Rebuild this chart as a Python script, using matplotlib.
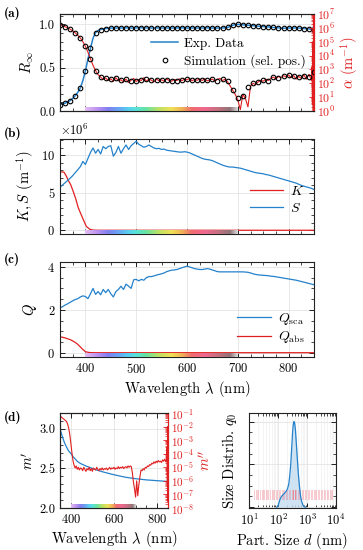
"""Reflectance / K-S / Q / refractive index overview, 4 panels."""
import numpy as np
import matplotlib
matplotlib.use("Agg")
import matplotlib.pyplot as plt
from matplotlib.colors import LinearSegmentedColormap
from matplotlib.lines import Line2D
from matplotlib.ticker import MultipleLocator, LogLocator, NullFormatter, ScalarFormatter

matplotlib.rcParams.update({
    "font.family": "serif", "font.serif": ["cmr10"], "mathtext.fontset": "cm",
    "axes.formatter.use_mathtext": True, "font.size": 9,
    "axes.linewidth": 0.8, "axes.edgecolor": "#222222",
    "xtick.direction": "in", "ytick.direction": "in",
    "xtick.top": True, "ytick.right": True,
    "xtick.major.size": 3.5, "ytick.major.size": 3.5,
    "xtick.minor.size": 2, "ytick.minor.size": 2,
    "xtick.major.width": 0.6, "ytick.major.width": 0.6,
    "xtick.minor.width": 0.5, "ytick.minor.width": 0.5,
    "xtick.minor.visible": True, "ytick.minor.visible": True,
})

BLUE = "#2482cc"
RED = "#e02020"
GRID = "#e4e4e4"

# ---------------- data ----------------
wl5 = np.arange(350, 851, 5)     # 5 nm grid of the spectra
wl10 = np.arange(350, 851, 10)   # selected simulation positions

# (a) reflectance R_inf, measured
R_exp = [
    .075, .082, .090, .105, .120, .145, .176, .215, .267, .350,
    .462, .600, .726, .840, .905, .930, .940, .947, .952, .955,
    .957, .958, .958, .959, .958, .959, .960, .959, .958, .959,
    .960, .960, .961, .960, .959, .959, .958, .959, .960, .959,
    .958, .958, .959, .958, .958, .958, .959, .959, .960, .959,
    .958, .958, .958, .959, .958, .958, .958, .959, .960, .959,
    .958, .958, .958, .958, .959, .960, .965, .975, .990, .997,
    1.000, .998, .995, .992, .990, .987, .985, .982, .980, .977,
    .975, .972, .970, .967, .965, .962, .960, .957, .955, .957,
    .958, .958, .958, .959, .958, .955, .952, .950, .948, .940,
    .975]
# (a) simulated R_inf at selected positions
R_sim = [
    .075, .090, .120, .176, .267, .462, .726, .905, .940, .952,
    .957, .958, .958, .960, .958, .960, .962, .958, .958, .960,
    .958, .958, .958, .958, .960, .958, .958, .958, .958, .960,
    .958, .958, .958, .965, .990, 1.000, .995, .990, .985, .980,
    .975, .970, .965, .960, .955, .958, .958, .958, .952, .948,
    .935]
# (a) absorption coefficient alpha, log10(m^-1)
alpha_log = [
    6.22, 6.15, 6.08, 6.00, 5.90, 5.78, 5.64, 5.47, 5.27, 5.00,
    4.67, 4.25, 3.77, 3.30, 2.92, 2.62, 2.45, 2.28, 2.38, 2.20,
    2.32, 2.15, 2.40, 2.18, 2.25, 2.10, 2.30, 2.05, 2.22, 2.35,
    2.12, 2.28, 2.20, 2.40, 2.15, 2.30, 2.22, 2.10, 2.30, 2.18,
    2.25, 2.15, 2.30, 2.20, 2.15, 2.28, 2.20, 2.32, 2.18, 2.30,
    2.25, 2.35, 2.18, 2.28, 2.22, 2.30, 2.20, 2.32, 2.18, 2.25,
    2.30, 2.15, 2.28, 2.35, 2.20, 2.30, 2.10, 1.80, 1.50, 1.20,
    0.80, 0.10, 1.20, 0.90, 0.30, 1.80, 2.00, 1.90, 2.10, 2.20,
    2.15, 2.30, 2.20, 2.35, 2.45, 2.30, 2.50, 2.40, 2.55, 2.45,
    2.60, 2.40, 2.55, 2.30, 2.50, 2.35, 2.60, 2.30, 2.65, 2.20]
alpha_end_wl = [846, 847, 848, 848.5, 849, 849.5, 850]
alpha_end_log = [3.2, 0.5, 5.0, 0.0, 7.0, 1.0, 2.9]
alpha_sim_log = [
    6.20, 6.08, 5.89, 5.64, 5.27, 4.67, 3.77, 2.92, 2.48, 2.36,
    2.31, 2.35, 2.22, 2.28, 2.18, 2.20, 2.22, 2.30, 2.24, 2.22,
    2.22, 2.24, 2.20, 2.20, 2.24, 2.30, 2.24, 2.26, 2.24, 2.22,
    2.30, 2.20, 2.30, 2.20, 1.50, 0.95, 1.05, 1.75, 2.00, 2.10,
    2.25, 2.20, 2.45, 2.40, 2.55, 2.60, 2.50, 2.45, 2.50, 2.45,
    2.85]

# (b) Kubelka-Munk coefficients (x1e6 m^-1)
S_km = [
    5.75, 6.05, 6.35, 6.65, 6.96, 7.30, 7.70, 8.10, 8.50, 9.20,
    8.80, 9.60, 10.4, 11.0, 10.3, 10.8, 10.2, 11.2, 10.9, 11.2,
    11.3, 9.90, 10.4, 11.2, 10.3, 10.9, 11.4, 10.8, 11.3, 11.6,
    11.9, 11.5, 11.3, 11.1, 11.2, 11.4, 11.2, 11.0, 10.9, 10.95,
    10.8, 10.85, 10.7, 10.65, 10.6, 10.55, 10.5, 10.45, 10.45, 10.5,
    10.45, 10.35, 10.2, 10.05, 9.90, 9.75, 9.60, 9.50, 9.45, 9.40,
    9.30, 9.15, 9.00, 8.85, 8.70, 8.60, 8.50, 8.45, 8.45, 8.40,
    8.35, 8.30, 8.20, 8.10, 8.00, 7.90, 7.80, 7.70, 7.65, 7.60,
    7.55, 7.45, 7.40, 7.30, 7.20, 7.10, 7.00, 6.90, 6.80, 6.70,
    6.60, 6.50, 6.40, 6.30, 6.15, 6.00, 5.90, 5.80, 5.70, 5.60,
    5.45]
K_wl = [350, 355, 358, 362, 366, 371, 376, 381, 386, 391, 396, 402, 409, 415, 420, 430, 850]
K_km = [7.8, 7.8, 7.75, 7.3, 6.7, 6.1, 5.2, 4.2, 3.0, 2.2, 1.4, 0.5, 0.12, 0.03, 0.01, 0.0, 0.0]

# (c) efficiencies
Q_sca = [
    2.08, 2.15, 2.22, 2.28, 2.35, 2.42, 2.48, 2.52, 2.60, 2.65,
    2.62, 2.52, 2.75, 3.00, 2.72, 2.85, 2.70, 2.95, 2.80, 2.95,
    2.75, 2.60, 2.85, 2.95, 3.10, 2.95, 3.20, 3.10, 3.00, 3.40,
    3.42, 3.35, 3.42, 3.38, 3.50, 3.55, 3.55, 3.58, 3.62, 3.65,
    3.68, 3.72, 3.78, 3.82, 3.85, 3.86, 3.88, 3.92, 3.96, 4.00,
    4.04, 4.00, 3.96, 3.92, 3.90, 3.88, 3.88, 3.90, 3.92, 3.90,
    3.86, 3.82, 3.78, 3.77, 3.77, 3.77, 3.77, 3.77, 3.77, 3.77,
    3.77, 3.77, 3.77, 3.76, 3.75, 3.72, 3.68, 3.65, 3.63, 3.62,
    3.61, 3.60, 3.59, 3.57, 3.56, 3.54, 3.52, 3.50, 3.48, 3.46,
    3.44, 3.42, 3.40, 3.38, 3.35, 3.32, 3.29, 3.26, 3.23, 3.20,
    3.17]
Qabs_wl = [350, 355, 360, 365, 370, 375, 380, 385, 390, 395, 400, 405, 410, 420, 850]
Q_abs = [0.74, 0.72, 0.69, 0.65, 0.61, 0.55, 0.48, 0.39, 0.27, 0.15, 0.05, 0.02, 0.005, 0.0, 0.0]

# (d) complex refractive index
m_re_wl = [350, 360, 370, 380, 390, 400, 410, 420, 430, 440, 450, 475, 500, 525, 550,
           600, 650, 700, 750, 800, 850]
m_re = [3.0, 2.91, 2.83, 2.77, 2.72, 2.69, 2.65, 2.62, 2.59, 2.57, 2.555, 2.525, 2.5,
        2.475, 2.455, 2.42, 2.39, 2.37, 2.355, 2.345, 2.335]
m_im_log = [
    -1.22, -1.28, -1.35, -1.42, -1.48, -1.55, -1.62, -1.80, -2.10, -2.55,
    -3.20, -3.90, -4.50, -4.85, -5.05, -4.90, -5.15, -5.00, -5.20, -5.05,
    -5.10, -5.25, -5.00, -5.15, -5.30, -5.10, -5.20, -5.00, -5.25, -5.10,
    -5.30, -5.05, -5.15, -5.20, -5.00, -5.15, -5.25, -5.10, -5.20, -5.05,
    -5.20, -5.10, -5.15, -5.05, -5.20, -5.10, -5.00, -5.15, -5.05, -5.10,
    -5.00, -5.15, -5.05, -5.10, -4.95, -5.10, -5.00, -5.05, -4.95, -5.10,
    -5.00, -4.95, -5.05, -4.90, -5.00, -4.90, -4.95, -5.40, -6.10, -6.60,
    -7.20, -6.00, -7.10, -6.30, -5.70, -5.20, -5.25, -5.10, -5.20, -5.00,
    -5.05, -4.90, -4.95, -4.80, -4.85, -4.70, -4.75, -4.60, -4.70, -4.55,
    -4.65, -4.50, -4.60, -4.55, -4.65, -4.45, -4.55, -4.40, -4.60, -4.40]
m_im_end_wl = [846, 847, 848, 848.5, 849, 849.5, 850]
m_im_end_log = [-3.5, -6.0, -2.0, -7.5, -3.0, -5.5, -4.5]

# (d) particle size distribution
size_d = [90, 100, 110, 120, 135, 155, 175, 195, 215, 235, 255, 275, 295, 315, 335,
          355, 375, 400, 430, 460, 500, 550, 600, 650, 720, 800, 900]
size_q0 = [0, 0.01, 0.06, 0.10, 0.13, 0.15, 0.17, 0.19, 0.22, 0.27, 0.37, 0.50, 0.68,
           0.85, 0.96, 1.0, 0.98, 0.90, 0.74, 0.58, 0.40, 0.24, 0.13, 0.07, 0.025, 0.005, 0]
# simulated particle sizes (pink lines)
sim_sizes = [15, 17, 19, 21, 24, 27, 30, 34, 38, 42, 47, 53, 60, 67, 75, 84, 94, 105,
             118, 133, 149, 167, 187, 210, 236, 265, 297, 333, 374, 420, 471, 529, 594,
             667, 749, 841, 944, 1060, 1190, 1335, 1500, 1680, 1890, 2120, 2380, 2670,
             3000, 3370, 3780, 4240, 4760, 5340, 6000, 6730, 7550]

# visible-spectrum strip colours
spec_wl = [400, 425, 445, 465, 485, 500, 520, 545, 570, 590, 610, 635, 660, 685, 700]
spec_col = ["#e4bcf2", "#b890f0", "#8080f0", "#68a4f4", "#58d0f0", "#58e2d8", "#68e2a0",
            "#bce264", "#f0e056", "#f0b456", "#f06c70", "#f06890", "#c87080", "#907478", "#dcdcdc"]
spec_cmap = LinearSegmentedColormap.from_list(
    "spec", [((w - 400) / 300, c) for w, c in zip(spec_wl, spec_col)])


def px(x0, y0, x1, y1):
    return [x0 / 363, 1 - y1 / 550, (x1 - x0) / 363, (y1 - y0) / 550]


def spectrum_strip(ax, h_px):
    h = h_px / (ax.get_position().height * 550)
    ins = ax.inset_axes([400, 0, 300, h], transform=ax.get_xaxis_transform())
    ins.imshow(np.linspace(0, 1, 256)[None, :], aspect="auto", cmap=spec_cmap)
    ins.set_axis_off()


def wl_axis(ax, major=100, minor=25):
    ax.set_xlim(350, 850)
    ax.xaxis.set_major_locator(MultipleLocator(major))
    ax.xaxis.set_minor_locator(MultipleLocator(minor))
    ax.grid(True, which="major", color=GRID, lw=0.6)
    ax.set_axisbelow(True)


def red_log_axis(ax2, lo, hi):
    ax2.set_yscale("log")
    ax2.set_ylim(lo, hi)
    ax2.yaxis.set_major_locator(LogLocator(base=10, numticks=15))
    ax2.yaxis.set_minor_locator(LogLocator(base=10, subs=range(2, 10), numticks=15))
    ax2.yaxis.set_minor_formatter(NullFormatter())
    ax2.spines["right"].set_color(RED)
    ax2.tick_params(axis="y", which="both", colors=RED, labelsize=8.5, pad=2)


fig = plt.figure(figsize=(3.63, 5.5), dpi=100)

# ---------------- (a) ----------------
ax = fig.add_axes(px(60, 14, 314, 111))
wl_axis(ax)
ax.tick_params(axis="y", which="both", right=False)
ax.tick_params(axis="x", labelbottom=False)
ax.plot(wl5, R_exp, color=BLUE, lw=1.1)
ax.plot(wl10, R_sim, "o", ms=3.3, mfc="none", mec="black", mew=0.8)
ax.set_ylim(0, 1.12)
ax.yaxis.set_major_locator(MultipleLocator(0.5))
ax.yaxis.set_minor_locator(MultipleLocator(0.1))
ax.yaxis.set_major_formatter(lambda v, p: f"{v:.1f}")
ax.set_ylabel(r"$R_\infty$", fontsize=10.5, labelpad=2)
spectrum_strip(ax, 4)

ax2 = ax.twinx()
alpha_wl = list(wl5[:-1]) + alpha_end_wl
alpha_v = 10 ** np.array(alpha_log + alpha_end_log)
ax2.plot(alpha_wl, alpha_v, color=RED, lw=0.8)
ax2.plot(wl10, 10 ** np.array(alpha_sim_log), "o", ms=3.3, mfc="none", mec="black", mew=0.8)
red_log_axis(ax2, 1, 1e7)
ax2.set_ylabel(r"$\alpha$ (m$^{-1}$)", color=RED, fontsize=10.5, labelpad=2)
ax2.legend([Line2D([], [], color=BLUE, lw=1.1),
            Line2D([], [], ls="none", marker="o", ms=3.3, mfc="none", mec="black", mew=0.8)],
           ["Exp. Data", "Simulation (sel. pos.)"], loc="center right",
           bbox_to_anchor=(1.0, 0.6), frameon=False, fontsize=9.5,
           handlelength=2.0, handletextpad=0.5, labelspacing=0.3, borderaxespad=0.2)

# ---------------- (b) ----------------
ax = fig.add_axes(px(60, 139, 314, 234))
wl_axis(ax)
ax.tick_params(axis="x", labelbottom=False)
ax.plot(K_wl, np.array(K_km) * 1e6, color=RED, lw=0.9, label="$K$")
ax.plot(wl5, np.array(S_km) * 1e6, color=BLUE, lw=0.9, label="$S$")
ax.set_ylim(-0.5e6, 12.2e6)
ax.yaxis.set_major_locator(MultipleLocator(5e6))
ax.yaxis.set_minor_locator(MultipleLocator(1e6))
sf = ScalarFormatter(useMathText=True)
sf.set_powerlimits((6, 6))
ax.yaxis.set_major_formatter(sf)
ax.set_ylabel(r"$K, S$ (m$^{-1}$)", fontsize=10.5, labelpad=4)
ax.legend(loc="lower right", bbox_to_anchor=(1.0, 0.1), frameon=False, fontsize=10,
          handlelength=2.4, handletextpad=0.5, labelspacing=0.25, borderaxespad=0.3)
spectrum_strip(ax, 4)

# ---------------- (c) ----------------
ax = fig.add_axes(px(60, 262, 314, 357))
wl_axis(ax)
ax.plot(wl5, Q_sca, color=BLUE, lw=0.9, label=r"$Q_\mathrm{sca}$")
ax.plot(Qabs_wl, Q_abs, color=RED, lw=0.9, label=r"$Q_\mathrm{abs}$")
ax.set_ylim(-0.2, 4.23)
ax.yaxis.set_major_locator(MultipleLocator(2))
ax.yaxis.set_minor_locator(MultipleLocator(0.5))
ax.set_ylabel("$Q$", fontsize=10.5, labelpad=6)
ax.set_xlabel(r"Wavelength $\lambda$ (nm)", fontsize=10.5, labelpad=2)
ax.legend(loc="lower right", bbox_to_anchor=(1.0, 0.02), frameon=False, fontsize=10,
          handlelength=2.4, handletextpad=0.5, labelspacing=0.2, borderaxespad=0.3)
spectrum_strip(ax, 4)

# ---------------- (d) left ----------------
ax = fig.add_axes(px(60, 413, 168, 508))
wl_axis(ax, major=200, minor=50)
ax.tick_params(axis="y", which="both", right=False)
ax.plot(m_re_wl, m_re, color=BLUE, lw=0.9)
ax.set_ylim(2.0, 3.2)
ax.yaxis.set_major_locator(MultipleLocator(0.5))
ax.yaxis.set_minor_locator(MultipleLocator(0.1))
ax.yaxis.set_major_formatter(lambda v, p: f"{v:.1f}")
ax.set_ylabel("$m'$", fontsize=10.5, labelpad=2)
ax.set_xlabel(r"Wavelength $\lambda$ (nm)", fontsize=10.5, labelpad=2)
spectrum_strip(ax, 4)

ax2 = ax.twinx()
m_im_wl = list(wl5[:-1]) + m_im_end_wl
ax2.plot(m_im_wl, 10 ** np.array(m_im_log + m_im_end_log), color=RED, lw=0.8)
red_log_axis(ax2, 1e-8, 1e-1)
ax2.tick_params(axis="y", labelsize=8)
ax2.set_ylabel("$m''$", color=RED, fontsize=10.5, labelpad=2)

# ---------------- (d) right ----------------
ax = fig.add_axes(px(249, 413, 336, 508))
ax.set_xscale("log")
ax.set_xlim(10, 1e4)
ax.set_ylim(-0.01, 1.1)
ax.xaxis.set_major_locator(LogLocator(base=10, numticks=10))
ax.xaxis.set_minor_locator(LogLocator(base=10, subs=range(2, 10), numticks=20))
ax.xaxis.set_minor_formatter(NullFormatter())
ax.yaxis.set_major_locator(MultipleLocator(0.5))
ax.yaxis.set_minor_locator(MultipleLocator(0.125))
ax.tick_params(axis="y", labelleft=False)
ax.grid(True, which="major", color=GRID, lw=0.6)
ax.grid(True, which="minor", axis="x", color="#f0f0f0", lw=0.5)
ax.set_axisbelow(True)
q_at = np.interp(np.log10(sim_sizes), np.log10(size_d), size_q0)
for d, q in zip(sim_sizes, q_at):
    a = 0.35 if q < 0.85 else 0.8
    ax.plot([d, d], [0.09, 0.2], color="#f07080", lw=0.7, alpha=a)
ax.fill_between(size_d, size_q0, color="#c4ddf1", alpha=0.8, lw=0)
ax.plot(size_d, size_q0, color=BLUE, lw=0.9)
ax.set_ylabel("Size Distrib. $q_0$", fontsize=10.5, labelpad=4)
ax.set_xlabel("Part. Size $d$ (nm)", fontsize=10.5, labelpad=2)

# panel labels
for lab, y in [("(a)", 13), ("(b)", 134), ("(c)", 259), ("(d)", 418)]:
    fig.text(4 / 363, 1 - y / 550, lab, fontfamily="cmb10", fontsize=9.5, va="center")

fig.savefig("out.png", dpi=100)
